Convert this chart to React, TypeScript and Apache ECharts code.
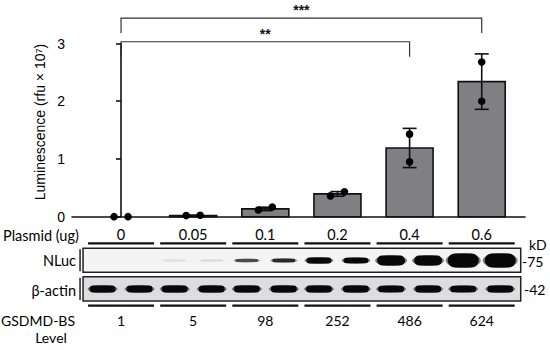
import React, { useEffect, useRef } from 'react';
import * as echarts from 'echarts';

// ---------- data ----------
const plasmidLabels = ['0', '0.05', '0.1', '0.2', '0.4', '0.6'];
const lumMean = [0, 0.022, 0.135, 0.395, 1.19, 2.34];
const lumSD = [0, 0.004, 0.03, 0.04, 0.34, 0.48];
const lumRep1 = [0, 0.02, 0.116, 0.36, 1.43, 2.68];
const lumRep2 = [0, 0.025, 0.168, 0.43, 0.95, 2.0];
const yTickValues = [0, 1, 2, 3];
const levelLabels = ['1', '5', '98', '252', '486', '624'];
// relative band signal, two lanes per plasmid amount
const nlucSignal = [0, 0, 0.01, 0.012, 0.1, 0.13, 0.32, 0.3, 0.66, 0.66, 1, 1];
const actinSignal = [1, 0.9, 1, 1, 0.9, 0.9, 1, 0.9, 0.8, 1, 0.8, 0.9];
const comparisons = [
  { from: 0, to: 5, label: '***', level: 3.44 },
  { from: 0, to: 4, label: '**', level: 3.03 },
];

// ---------- layout / style ----------
const X_MIN = -0.68;
const X_MAX = 5.6;
const BAR_W = 47;
const DOT_R = 3.8;
const DOT_SPREAD = 7;
const CAP_HALF = 7;
const LANE_OFF = 18.5;
const UL_HALF = 33;
const UL_TOP_Y = 243.3;
const UL_BOT_Y = 305.7;
const NLUC_BOX: [number, number] = [248.3, 272.3];
const ACTIN_BOX: [number, number] = [276.7, 301];
const NLUC_Y = 260.5;
const ACTIN_Y = 289;
const LEVEL_Y = 320;
const ARIAL = '"Liberation Sans", Arial, sans-serif';
const CAL = 'Lato, "Open Sans", sans-serif';
const INK = '#111';

const band = (cx: number, cy: number, w: number, h: number, opacity: number) => ({
  type: 'group',
  children: [
    {
      type: 'ellipse',
      shape: { cx, cy, rx: w / 2, ry: h / 2 + 0.6 },
      style: { fill: '#222', opacity: opacity * 0.55 },
    },
    {
      type: 'rect',
      shape: { x: cx - w / 2 + 2, y: cy - h / 2, width: w - 4, height: h, r: h / 2 },
      style: { fill: '#080808', opacity },
    },
  ],
});

export default function App() {
  const ref = useRef<HTMLDivElement>(null);
  useEffect(() => {
    if (!ref.current) return;
    const chart = echarts.init(ref.current, undefined, { renderer: 'svg' });

    const option: any = {
      animation: false,
      backgroundColor: '#fff',
      grid: { left: 72, right: 25, top: 43.5, bottom: 133.3 },
      xAxis: {
        type: 'value',
        min: X_MIN,
        max: X_MAX,
        splitLine: { show: false },
        axisTick: { show: false },
        axisLine: { show: true, onZero: false, lineStyle: { color: INK, width: 1.6 } },
        axisLabel: {
          customValues: plasmidLabels.map((_, i) => i),
          formatter: (v: number) => plasmidLabels[Math.round(v)] ?? '',
          margin: 10,
          color: '#000',
          fontFamily: CAL,
          fontSize: 14.5,
        },
      },
      yAxis: {
        type: 'value',
        min: 0,
        max: 3,
        interval: 1,
        splitLine: { show: false },
        axisLine: { show: true, lineStyle: { color: INK, width: 1.6 } },
        axisTick: { show: true, length: 5, lineStyle: { color: INK, width: 1.6 } },
        axisLabel: {
          formatter: (v: number) => (yTickValues.includes(v) ? String(v) : ''),
          margin: 7,
          color: '#000',
          fontFamily: ARIAL,
          fontSize: 14,
        },
      },
      graphic: [
        {
          type: 'text', x: 40, y: 122, rotation: Math.PI / 2,
          style: { text: 'Luminescence (rfu × 10⁷)', fill: '#000', font: `14px ${ARIAL}`, textAlign: 'center', textVerticalAlign: 'middle' },
        },
        { type: 'text', x: 3, y: 235, style: { text: 'Plasmid (ug)', fill: '#000', font: `14.5px ${CAL}`, textAlign: 'left', textVerticalAlign: 'middle' } },
        { type: 'text', x: 76, y: NLUC_Y, style: { text: 'NLuc', fill: '#000', font: `14.5px ${CAL}`, textAlign: 'right', textVerticalAlign: 'middle' } },
        { type: 'text', x: 76, y: ACTIN_Y + 1, style: { text: 'β-actin', fill: '#000', font: `14.5px ${CAL}`, textAlign: 'right', textVerticalAlign: 'middle' } },
        { type: 'text', x: 38, y: LEVEL_Y, style: { text: 'GSDMD-BS', fill: '#000', font: `14px ${CAL}`, textAlign: 'center', textVerticalAlign: 'middle' } },
        { type: 'text', x: 51, y: 337, style: { text: 'Level', fill: '#000', font: `14px ${CAL}`, textAlign: 'center', textVerticalAlign: 'middle' } },
        { type: 'text', x: 529, y: 244, style: { text: 'kD', fill: '#000', font: `14px ${CAL}`, textAlign: 'left', textVerticalAlign: 'middle' } },
        { type: 'text', x: 522, y: NLUC_Y + 0.5, style: { text: '-75', fill: '#000', font: `14px ${CAL}`, textAlign: 'left', textVerticalAlign: 'middle' } },
        { type: 'text', x: 524, y: ACTIN_Y, style: { text: '-42', fill: '#000', font: `14px ${CAL}`, textAlign: 'left', textVerticalAlign: 'middle' } },
      ],
      series: [
        // blot boxes
        {
          type: 'custom',
          clip: false,
          z: 1,
          data: [[0, plasmidLabels.length - 1]],
          renderItem: (_p: any, api: any) => {
            const left = api.coord([api.value(0), 0])[0] - 38;
            const right = api.coord([api.value(1), 0])[0] + 39;
            const box = (y: [number, number], fill: string) => ({
              type: 'rect',
              shape: { x: left, y: y[0], width: right - left, height: y[1] - y[0] },
              style: { fill, stroke: '#222', lineWidth: 1.5 },
            });
            const side = (y: [number, number]) => ({
              type: 'line',
              shape: { x1: left - 3, y1: y[0] + 1, x2: left - 3, y2: y[1] - 1 },
              style: { stroke: '#222', lineWidth: 1.5 },
            });
            return {
              type: 'group',
              children: [box(NLUC_BOX, '#f4f4f4'), box(ACTIN_BOX, '#dddddf'), side(NLUC_BOX), side(ACTIN_BOX)],
            };
          },
        },
        // blot bands
        {
          type: 'custom',
          clip: false,
          z: 2,
          data: nlucSignal.map((s, i) => [i, s, actinSignal[i]]),
          renderItem: (_p: any, api: any) => {
            const lane = api.value(0);
            const cat = Math.floor(lane / 2);
            const dir = lane % 2 === 0 ? -1 : 1;
            const cx = api.coord([cat, 0])[0] + dir * LANE_OFF;
            const sN = api.value(1);
            const sA = api.value(2);
            const children: any[] = [];
            if (sN > 0) {
              const h = 2 + 12 * sN;
              const w = 26 + 9 * sN;
              children.push(band(cx, NLUC_Y, w, h, Math.min(1, sN * 6)));
            }
            const hA = 5.5 + 1.5 * sA;
            children.push(band(cx, ACTIN_Y, 30, hA, 1));
            return { type: 'group', children };
          },
        },
        // underlines and level numbers
        {
          type: 'custom',
          clip: false,
          z: 2,
          data: levelLabels.map((_, i) => [i]),
          renderItem: (p: any, api: any) => {
            const cx = api.coord([api.value(0), 0])[0];
            const ul = (y: number) => ({
              type: 'line',
              shape: { x1: cx - UL_HALF, y1: y, x2: cx + UL_HALF, y2: y },
              style: { stroke: INK, lineWidth: 2.2 },
            });
            return {
              type: 'group',
              children: [
                ul(UL_TOP_Y),
                ul(UL_BOT_Y),
                {
                  type: 'text',
                  x: cx,
                  y: LEVEL_Y,
                  style: { text: levelLabels[p.dataIndex], fill: '#000', font: `14px ${CAL}`, textAlign: 'center', textVerticalAlign: 'middle' },
                },
              ],
            };
          },
        },
        // bars, error bars, replicate dots
        {
          type: 'custom',
          clip: false,
          z: 3,
          data: plasmidLabels.map((_, i) => [i, lumMean[i], lumSD[i], lumRep1[i], lumRep2[i]]),
          renderItem: (_p: any, api: any) => {
            const x = api.value(0);
            const m = api.value(1);
            const sd = api.value(2);
            const r1 = api.value(3);
            const r2 = api.value(4);
            const [cx, y0] = api.coord([x, 0]);
            const children: any[] = [];
            if (m > 0) {
              const yTop = api.coord([x, m])[1];
              children.push({
                type: 'rect',
                shape: { x: cx - BAR_W / 2, y: yTop, width: BAR_W, height: y0 - yTop },
                style: { fill: '#808084', stroke: INK, lineWidth: 1.6 },
              });
              if (sd > 0) {
                const yHi = api.coord([x, m + sd])[1];
                const yLo = api.coord([x, Math.max(0, m - sd)])[1];
                const ls = { stroke: INK, lineWidth: 1.6 };
                children.push({ type: 'line', shape: { x1: cx, y1: yHi, x2: cx, y2: yLo }, style: ls });
                children.push({ type: 'line', shape: { x1: cx - CAP_HALF, y1: yHi, x2: cx + CAP_HALF, y2: yHi }, style: ls });
                children.push({ type: 'line', shape: { x1: cx - CAP_HALF, y1: yLo, x2: cx + CAP_HALF, y2: yLo }, style: ls });
              }
            }
            const p1 = api.coord([x, r1])[1];
            const p2 = api.coord([x, r2])[1];
            const spread = Math.abs(p1 - p2) < 2 * DOT_R + 6 ? DOT_SPREAD : 0;
            children.push({ type: 'circle', shape: { cx: cx - spread, cy: p1, r: DOT_R }, style: { fill: '#000' } });
            children.push({ type: 'circle', shape: { cx: cx + spread, cy: p2, r: DOT_R }, style: { fill: '#000' } });
            return { type: 'group', children };
          },
        },
        // significance brackets
        {
          type: 'custom',
          clip: false,
          z: 4,
          data: comparisons.map((c) => [c.from, c.to, c.level]),
          renderItem: (p: any, api: any) => {
            const a = api.coord([api.value(0), api.value(2)]);
            const b = api.coord([api.value(1), api.value(2)]);
            const leg = 15;
            return {
              type: 'group',
              children: [
                {
                  type: 'polyline',
                  shape: { points: [[a[0], a[1] + leg], [a[0], a[1]], [b[0], b[1]], [b[0], b[1] + leg]] },
                  style: { stroke: '#333', lineWidth: 1.2, fill: 'none' },
                },
                {
                  type: 'text',
                  x: (a[0] + b[0]) / 2,
                  y: a[1] - 1,
                  style: { text: comparisons[p.dataIndex].label, fill: '#111', font: `bold 14px ${ARIAL}`, textAlign: 'center', textVerticalAlign: 'bottom' },
                },
              ],
            };
          },
        },
      ],
    };

    chart.setOption(option);
    return () => chart.dispose();
  }, []);

  return <div ref={ref} style={{ position: 'fixed', left: 0, top: 0, width: 550, height: 350 }} />;
}
